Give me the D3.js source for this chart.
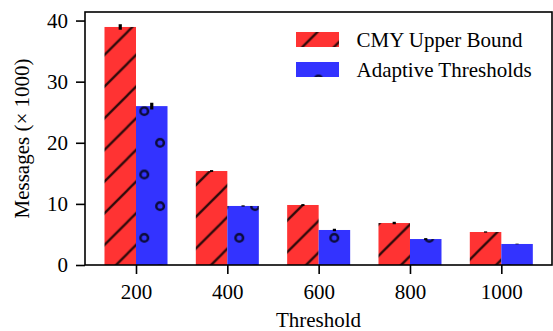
<!DOCTYPE html>
<html>
<head>
<meta charset="utf-8">
<script src="https://cdn.jsdelivr.net/npm/d3@7"></script>
<style>
  html, body { margin: 0; padding: 0; background: #fff; }
  svg { display: block; }
  text { font-family: "Liberation Serif", "Times New Roman", serif; }
</style>
</head>
<body>
<svg id="chart" width="553" height="331"></svg>
<script>
// ---- data ----
const thresholds = ["200", "400", "600", "800", "1000"];
const seriesNames = ["CMY Upper Bound", "Adaptive Thresholds"];
const cmyValues = [38.95, 15.38, 9.82, 6.87, 5.40];
const cmyErrors = [0.45, 0.15, 0.15, 0.2, 0.1];
const adaptiveValues = [26.0, 9.66, 5.73, 4.25, 3.44];
const adaptiveErrors = [0.55, 0.1, 0.2, 0.15, 0.05];
const yTicks = [0, 10, 20, 30, 40];

// ---- layout ----
const svg = d3.select("#chart");
const plotL = 85, plotR = 552, plotT = 12, plotB = 265;
const x = d3.scaleLinear().domain([-0.5584, 4.555]).range([plotL, plotR]);
const y = d3.scaleLinear().domain([0, 41.4]).range([plotB, plotT]);
const barW = 0.345;
const FS = 21;

const colors = ["#ff3333", "#3333ff"];
const hatchRed = "#2e0a0a";
const hatchBlue = "#0a0a38";
const P = 31.67;

const defs = svg.append("defs");
// diagonal hatch pattern (shared tiling, like matplotlib)
const pd = defs.append("pattern").attr("id", "hatchDiag")
  .attr("patternUnits", "userSpaceOnUse")
  .attr("x", 1).attr("y", 0).attr("width", P).attr("height", P);
pd.append("rect").attr("width", P).attr("height", P).attr("fill", colors[0]);
[[0, P, P, 0], [-3, 3, 3, -3], [P - 3, P + 3, P + 3, P - 3]].forEach(l => {
  pd.append("line").attr("x1", l[0]).attr("y1", l[1]).attr("x2", l[2]).attr("y2", l[3])
    .attr("stroke", hatchRed).attr("stroke-width", 2.3);
});
// circle hatch pattern
const pc = defs.append("pattern").attr("id", "hatchCirc")
  .attr("patternUnits", "userSpaceOnUse")
  .attr("x", 1.77).attr("y", 0.3).attr("width", P).attr("height", 2 * P);
pc.append("rect").attr("width", P).attr("height", 2 * P).attr("fill", colors[1]);
[[P / 2, 1.5 * P], [0, P / 2], [P, P / 2]].forEach(c => {
  pc.append("circle").attr("cx", c[0]).attr("cy", c[1]).attr("r", 3.8)
    .attr("fill", "none").attr("stroke", hatchBlue).attr("stroke-width", 2.5);
});

const fills = ["url(#hatchDiag)", "url(#hatchCirc)"];
const series = [
  { values: cmyValues, errors: cmyErrors, off: -barW / 2 },
  { values: adaptiveValues, errors: adaptiveErrors, off: barW / 2 }
];

series.forEach((s, si) => {
  const g = svg.append("g");
  g.selectAll("rect").data(s.values).join("rect")
    .attr("x", (d, i) => x(i + s.off - barW / 2))
    .attr("width", x(barW) - x(0))
    .attr("y", d => y(d))
    .attr("height", d => y(0) - y(d))
    .attr("fill", fills[si]);
  g.selectAll("line").data(s.values).join("line")
    .attr("x1", (d, i) => x(i + s.off)).attr("x2", (d, i) => x(i + s.off))
    .attr("y1", (d, i) => y(d - s.errors[i]))
    .attr("y2", (d, i) => y(d + s.errors[i]))
    .attr("stroke", "#000").attr("stroke-width", 3.2);
});

// axes
const xAxis = d3.axisBottom(x).tickValues(d3.range(thresholds.length))
  .tickFormat(i => thresholds[i]).tickSize(9).tickPadding(10.5);
const yAxis = d3.axisLeft(y).tickValues(yTicks).tickSize(9).tickPadding(8);

const gx = svg.append("g").attr("transform", `translate(0,${plotB})`).call(xAxis);
const gy = svg.append("g").attr("transform", `translate(${plotL},0)`).call(yAxis);
[gx, gy].forEach(g => {
  g.select(".domain").remove();
  g.selectAll(".tick line").attr("stroke", "#000").attr("stroke-width", 1.6);
  g.selectAll(".tick text").attr("font-family", "Liberation Serif, serif")
    .attr("font-size", FS).attr("fill", "#000");
});

// frame
svg.append("rect").attr("x", plotL).attr("y", plotT)
  .attr("width", plotR - plotL).attr("height", plotB - plotT)
  .attr("fill", "none").attr("stroke", "#000").attr("stroke-width", 1.6);

// labels
svg.append("text").attr("x", (plotL + plotR) / 2).attr("y", 327)
  .attr("text-anchor", "middle").attr("font-size", FS).text("Threshold");
svg.append("text")
  .attr("transform", `translate(28.5,${(plotT + plotB) / 2}) rotate(-90)`)
  .attr("text-anchor", "middle").attr("font-size", FS)
  .text("Messages (× 1000)");

// legend
const lg = svg.append("g");
seriesNames.forEach((name, i) => {
  const yy = 32 + i * 30;
  lg.append("rect").attr("x", 296).attr("y", yy).attr("width", 43).attr("height", 15)
    .attr("fill", fills[i]);
  lg.append("text").attr("x", 356.5).attr("y", yy + 15.3)
    .attr("font-size", FS).text(name);
});
</script>
</body>
</html>
